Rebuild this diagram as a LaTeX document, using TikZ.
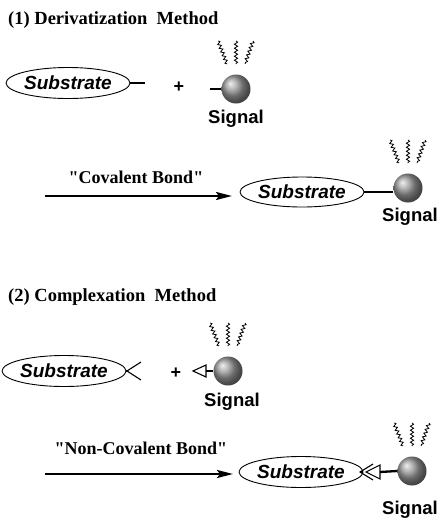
\documentclass[tikz,border=0pt]{standalone}
\usepackage{fontspec}
\setmainfont{Liberation Serif}[Ligatures=TeXOff]
\setsansfont{Liberation Sans}
\usetikzlibrary{arrows.meta,decorations.pathmorphing,shapes.geometric}
\begin{document}
\begin{tikzpicture}[x=1pt,y=-1pt,
  title/.style={anchor=base west, font=\fontsize{18.5}{20}\selectfont\bfseries, inner sep=0},
  subst/.style={ellipse, draw, line width=0.9pt, minimum width=112pt, minimum height=31pt, inner sep=0, font=\sffamily\fontsize{19}{20}\selectfont\bfseries\itshape},
  sphere/.style={circle, minimum size=29pt, inner sep=0, shading=ball, ball color=gray!80},
  siglab/.style={font=\sffamily\fontsize{18.5}{20}\selectfont\bfseries, inner sep=0},
  bond/.style={line width=2.3pt},
  thin/.style={line width=1.1pt, line join=miter},
  wave/.style={decorate, decoration={snake, amplitude=1.6pt, segment length=4pt}, line width=0.8pt},
  react/.style={line width=2.4pt, -{Stealth[length=16pt,width=8pt,inset=3pt]}},
  bondlab/.style={font=\fontsize{18}{20}\selectfont\bfseries, inner sep=0},
  plus/.style={font=\sffamily\fontsize{18}{20}\selectfont\bfseries, inner sep=0},
  rays/.pic={
    \draw[wave] (-18,-48) -- (-9,-25);
    \draw[wave] (0,-48) -- (0,-25);
    \draw[wave] (17,-48) -- (9,-25);
  }
]
\useasboundingbox (0,0) rectangle (438,520);

% ---------- (1) ----------
\node[title] (t1) at (8,24) {(1) Derivatization\ \ Method};

\node[subst] (sub1) at (68,83) {Substrate};
\coordinate (b1e) at (145,83);
\draw[bond] (sub1.east) -- (b1e);
\node[plus] (p1) at (179,87) {+};
\node[sphere] (sig1) at (236,89) {};
\coordinate (b1s) at (210,89);
\draw[bond] (b1s) -- (sig1.west);
\pic at (sig1.center) {rays};
\node[siglab] (l1) at (236,119) {Signal};

\coordinate (a1s) at (45,196);
\coordinate (a1e) at (232,196);
\draw[react] (a1s) -- (a1e);
\node[bondlab] (bl1) at (136,177) {"Covalent Bond"};

\node[subst, minimum width=106pt, minimum height=30pt] (sub2) at (302,192) {Substrate};
\node[sphere] (sig2) at (408,188) {};
\draw[bond] (sub2.east) -- (sub2.east -| sig2.west);
\pic at (sig2.center) {rays};
\node[siglab] (l2) at (410,217) {Signal};

% ---------- (2) ----------
\node[title] (t2) at (8,301) {(2) Complexation\ \ Method};

\node[subst] (sub3) at (64,371) {Substrate};
\coordinate (f3) at (127,371);
\coordinate (f3a) at (141,362);
\coordinate (f3b) at (141,380);
\draw[bond] (sub3.east) -- (f3);
\draw[thin] (f3a) -- (f3) -- (f3b);
\node[plus] (p3) at (176,373) {+};
\coordinate (tr3a) at (193,371);
\coordinate (tr3b) at (206,365);
\coordinate (tr3c) at (206,377);
\draw[thin] (tr3a) -- (tr3b) -- (tr3c) -- cycle;
\node[sphere] (sig3) at (228,371) {};
\draw[bond] (tr3a -| tr3b) -- (sig3.west);
\pic at (sig3.center) {rays};
\node[siglab] (l3) at (232,402) {Signal};

\coordinate (a2s) at (45,474);
\coordinate (a2e) at (233,474);
\draw[react] (a2s) -- (a2e);
\node[bondlab] (bl2) at (141,448) {"Non-Covalent Bond"};

\node[subst, minimum width=108pt, minimum height=31pt] (sub4) at (301,472) {Substrate};
\coordinate (v4) at (360,472);
\coordinate (v4a) at (373,464);
\coordinate (v4b) at (373,480);
\draw[bond] (sub4.east) -- (v4);
\draw[thin] (v4a) -- (v4) -- (v4b);
\coordinate (tr4a) at (366,472);
\coordinate (tr4b) at (380,465);
\coordinate (tr4c) at (380,479);
\draw[thin] (tr4a) -- (tr4b) -- (tr4c) -- cycle;
\node[sphere] (sig4) at (412,471) {};
\draw[bond] (tr4a -| tr4b) -- (sig4.west);
\pic at (sig4.center) {rays};
\node[siglab] (l4) at (410,510) {Signal};
\end{tikzpicture}
\end{document}
